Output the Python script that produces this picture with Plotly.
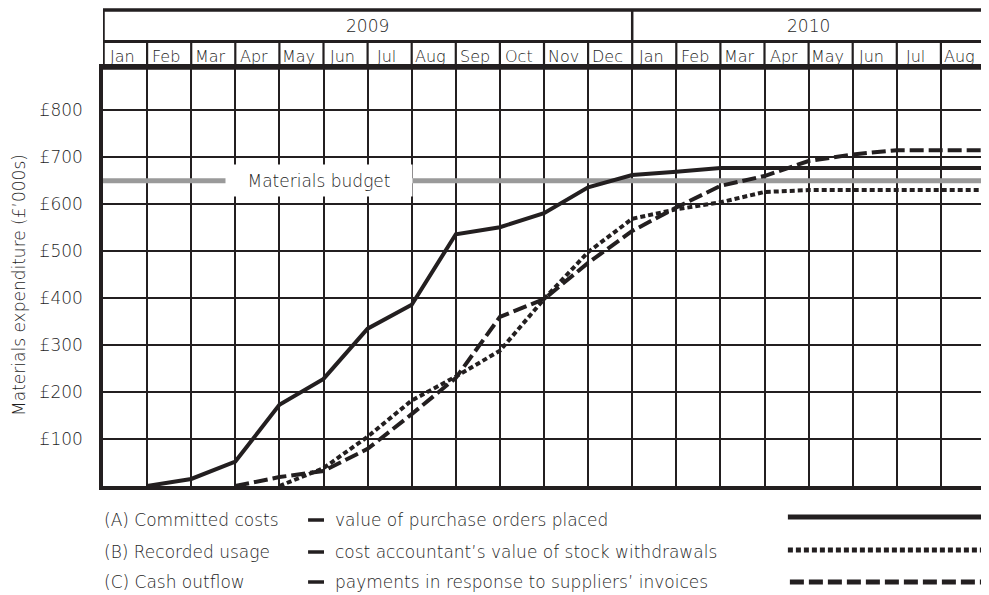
import plotly.graph_objects as go

# Dados (valores em £'000 no fim de cada mês)
months = ["Jan", "Feb", "Mar", "Apr", "May", "Jun", "Jul", "Aug", "Sep", "Oct", "Nov", "Dec",
          "Jan", "Feb", "Mar", "Apr", "May", "Jun", "Jul", "Aug"]
years = ["2009", "2010"]
months_per_year = [12, 8]

budget = 650

committed_start = 1
committed = [0, 15, 52, 173, 228, 335, 386, 536, 551, 581, 636, 662, 669, 677,
             677, 677, 677, 677, 677, 677]

recorded_start = 4
recorded = [0, 38, 105, 182, 233, 288, 398, 498, 569, 589, 604, 626, 630,
            630, 630, 630, 630]

cash_start = 3
cash = [0, 19, 32, 79, 153, 230, 360, 398, 475, 543, 593, 639, 660, 692,
        706, 715, 715, 715]

y_ticks = [100, 200, 300, 400, 500, 600, 700, 800]

legend_names = ["(A) Committed costs", "(B) Recorded usage", "(C) Cash outflow"]
legend_desc = ["value of purchase orders placed",
               "cost accountant\u2019s value of stock withdrawals",
               "payments in response to suppliers\u2019 invoices"]

INK = "#231f20"
TXT = "#1e1e1e"
FONT = "DejaVu Sans"
FS = 17
n = len(months)

fig = go.Figure()

# linha do orçamento
fig.add_trace(go.Scatter(x=[0, n], y=[budget, budget], mode="lines",
                         line=dict(color="#9a9a9a", width=5), hoverinfo="skip"))

DOT = "5px,3px"
DASH = "14px,5px"
styles = [dict(color=INK, width=4),
          dict(color=INK, width=4, dash=DOT),
          dict(color=INK, width=4, dash=DASH)]
series = [(committed_start, committed), (recorded_start, recorded), (cash_start, cash)]
for (start, vals), st in zip(series, styles):
    fig.add_trace(go.Scatter(x=list(range(start, start + len(vals))), y=vals,
                             mode="lines", line=st))

# posições em px da página (o body tem margem de 8px)
W, H = 886, 418
BOTTOM, LEFT = 486, 103

def py(px):
    return (BOTTOM - px) / H

def px_x(px):
    return (px - LEFT) / W

def txt(size=FS):
    return dict(size=size, color=TXT, family=FONT, weight=300)

shapes = []
annotations = []

# cabeçalho com anos e meses
y_top, y_mid = py(10), py(41.5)
shapes.append(dict(type="rect", xref="x", yref="paper", x0=0, x1=n, y0=1, y1=y_top,
                   line=dict(color=INK, width=3.5)))
shapes.append(dict(type="line", xref="x", yref="paper", x0=0, x1=n, y0=y_mid, y1=y_mid,
                   line=dict(color=INK, width=3)))
for i in range(1, n):
    shapes.append(dict(type="line", xref="x", yref="paper", x0=i, x1=i, y0=1, y1=y_mid,
                       line=dict(color=INK, width=2.2)))
start = 0
for yr, cnt in zip(years, months_per_year):
    if start > 0:
        shapes.append(dict(type="line", xref="x", yref="paper", x0=start, x1=start,
                           y0=y_mid, y1=y_top, line=dict(color=INK, width=2.5)))
    annotations.append(dict(x=start + cnt / 2, y=py(26), xref="x", yref="paper",
                            xanchor="center", yanchor="middle",
                            text=yr, showarrow=False, font=txt()))
    start += cnt
for i, m in enumerate(months):
    annotations.append(dict(x=i + 0.5, y=py(56), xref="x", yref="paper", text=m,
                            xanchor="center", yanchor="middle", xshift=-3,
                            showarrow=False, font=txt(16)))

# rótulo do orçamento
annotations.append(dict(x=4.9, y=budget, xref="x", yref="y", text="Materials budget",
                        xanchor="center", yanchor="middle",
                        showarrow=False, bgcolor="white", width=184, height=29,
                        font=txt()))

# título do eixo y
annotations.append(dict(x=px_x(18.5), y=py(285), xref="paper", yref="paper",
                        xanchor="center", yanchor="middle",
                        text="Materials expenditure (\u00a3\u2019000s)", textangle=-90,
                        showarrow=False, font=txt()))

# legenda desenhada à mão
text_rows = [520, 552, 582]
line_rows = [517, 550, 582]
dashes = ["solid", DOT, DASH]
line_x0 = [791, 791, 793]
for name, desc, row, lrow, dsh, lx in zip(legend_names, legend_desc, text_rows,
                                          line_rows, dashes, line_x0):
    annotations.append(dict(x=px_x(102), y=py(row), xref="paper", yref="paper", text=name,
                            xanchor="left", yanchor="middle", showarrow=False, font=txt()))
    shapes.append(dict(type="line", xref="paper", yref="paper", x0=px_x(309), x1=px_x(325),
                       y0=py(row), y1=py(row), line=dict(color=INK, width=3.5)))
    annotations.append(dict(x=px_x(334), y=py(row), xref="paper", yref="paper",
                            text=desc, xanchor="left", yanchor="middle", showarrow=False,
                            font=txt()))
    shapes.append(dict(type="line", xref="paper", yref="paper", x0=px_x(lx), x1=1,
                       y0=py(lrow), y1=py(lrow), line=dict(color=INK, width=5, dash=dsh)))

fig.update_layout(
    width=981, height=587,
    margin=dict(l=95, r=0, t=60, b=109),
    paper_bgcolor="white", plot_bgcolor="white",
    showlegend=False,
    shapes=shapes, annotations=annotations,
    xaxis=dict(range=[0, n], tickvals=list(range(n + 1)), showticklabels=False,
               showgrid=True, gridcolor=INK, gridwidth=2.2, zeroline=False,
               showline=True, linecolor=INK, linewidth=3.5, mirror=True, ticks=""),
    yaxis=dict(range=[0, 890], tickvals=y_ticks, ticktext=["\u00a3%d" % v for v in y_ticks],
               showgrid=True, gridcolor=INK, gridwidth=2.2, zeroline=False,
               showline=True, linecolor=INK, linewidth=3.5, mirror=True, ticks="",
               ticklabelstandoff=13, tickfont=txt()),
)

fig.write_html("out.html")
